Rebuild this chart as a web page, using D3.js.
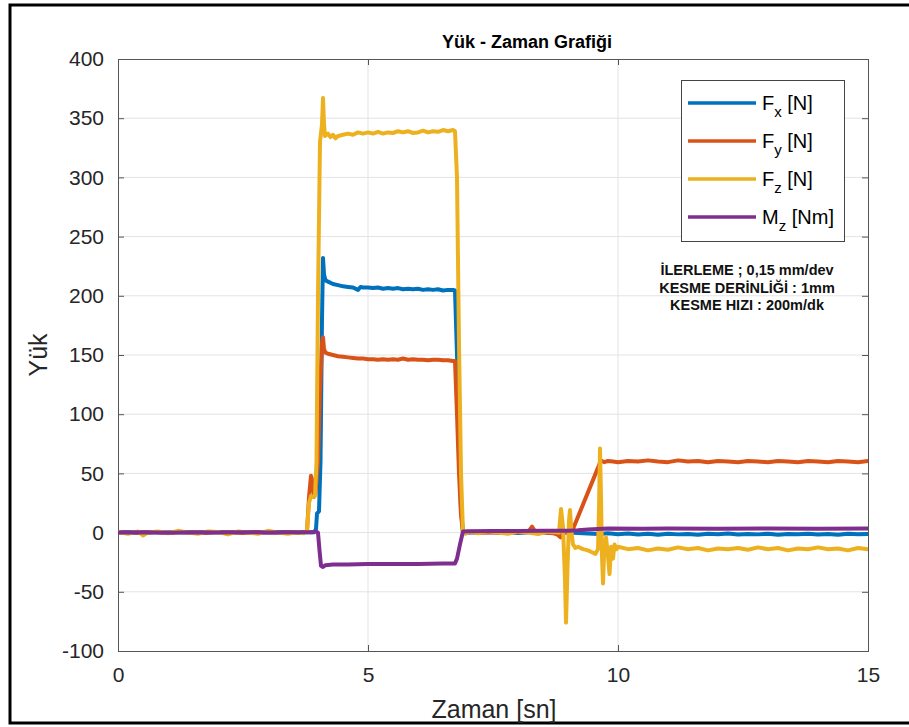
<!DOCTYPE html>
<html>
<head>
<meta charset="utf-8">
<script src="https://d3js.org/d3.v7.min.js"></script>
<style>
    body { margin: 0; background: #fff; }
    #chart-area { width: 909px; height: 727px; }
    text { font-family: Arial, "Liberation Sans", sans-serif; }
</style>
</head>
<body>
<div id="chart-area"></div>
<script>

// series as [time (sn), value] pairs
let fxData = [
    [0,0.5],[0.25,0.2],[0.5,-0.3],[0.75,0.4],[1,0.1],[1.25,0.6],[1.5,-0.2],[1.75,0.3],[2,0.5],[2.25,0],
    [2.5,0.4],[2.75,-0.3],[3,0.2],[3.25,0.5],[3.5,0.1],[3.75,0.3],[3.92,0.2],[3.96,3],[3.98,16],[4.02,18],
    [4.05,60],[4.08,180],[4.1,232],[4.12,218],[4.15,213],[4.2,212],[4.3,210],[4.4,209],[4.5,208],[4.6,207.5],
    [4.7,207],[4.8,205],[4.85,207.5],[4.9,207],[5.0,207],[5.1,206.5],[5.2,207],[5.3,206],[5.4,206.5],[5.5,206],
    [5.6,206.5],[5.7,205.5],[5.8,206],[5.9,205.5],[6.0,206],[6.1,205],[6.2,205.5],[6.3,205],[6.4,205.5],[6.5,204.5],
    [6.6,205],[6.7,205],[6.74,204.5],[6.78,150],[6.82,80],[6.86,20],[6.9,0],[7.0,0.3],[7.2,-0.2],[7.4,0.4],
    [7.6,0],[7.8,0.5],[8.0,-0.3],[8.2,0.2],[8.4,0.4],[8.6,-0.2],[8.8,0.3],[9.0,0],[9.2,-0.4],[9.4,-0.8],
    [9.6,-1.2],[9.8,-0.6],[10.0,-1.4],[10.2,-0.8],[10.4,-1.6],[10.6,-1.0],[10.8,-1.8],[11.0,-0.9],[11.2,-1.5],[11.4,-1.1],
    [11.6,-1.9],[11.8,-1.0],[12.0,-1.4],[12.2,-0.8],[12.4,-1.7],[12.6,-1.2],[12.8,-1.5],[13.0,-0.9],[13.2,-1.8],[13.4,-1.1],
    [13.6,-1.4],[13.8,-0.9],[14.0,-1.6],[14.2,-1.2],[14.4,-1.8],[14.6,-1.0],[14.8,-1.4],[15.0,-1.2]
];

let fyData = [
    [0,0.3],[0.25,-0.4],[0.5,0.2],[0.75,0.5],[1,-0.2],[1.25,0.4],[1.5,0.1],[1.75,-0.3],[2,0.4],[2.25,0.2],
    [2.5,-0.3],[2.75,0.5],[3,0.1],[3.25,-0.2],[3.5,0.3],[3.7,0.1],[3.78,1],[3.82,30],[3.86,48],[3.9,42],
    [3.92,30],[3.95,33],[4.0,60],[4.04,120],[4.08,160],[4.1,165],[4.12,155],[4.15,152],[4.2,151],[4.3,150],
    [4.4,149],[4.5,148.5],[4.6,148],[4.7,147.5],[4.8,147],[4.9,147],[5.0,146.5],[5.1,146.5],[5.2,146],[5.3,146.5],
    [5.4,146],[5.5,146.5],[5.6,146],[5.7,147],[5.8,146],[5.9,146.5],[6.0,146],[6.1,146],[6.2,145.5],[6.3,146],
    [6.4,146],[6.5,145.5],[6.6,145.5],[6.7,145],[6.74,145],[6.78,100],[6.82,50],[6.86,15],[6.9,0],[7.0,0.4],
    [7.25,-0.2],[7.5,0.3],[7.75,0.1],[8.0,0.4],[8.2,0.3],[8.28,5],[8.34,1],[8.5,0.2],[8.7,-0.5],[8.8,-2],
    [8.85,-4],[8.9,-1],[9.0,1],[9.1,3],[9.66,61],[9.72,59.5],[9.8,60.5],[9.9,60],[10.0,59.5],[10.2,60.5],
    [10.4,60],[10.6,61],[10.8,60],[11.0,59.5],[11.2,61],[11.4,60],[11.6,60.5],[11.8,59.5],[12.0,60.5],[12.2,60],
    [12.4,59.5],[12.6,60.5],[12.8,60],[13.0,59.5],[13.2,60.5],[13.4,60],[13.6,59.5],[13.8,60.5],[14.0,60],[14.2,59.5],
    [14.4,60.5],[14.6,60],[14.8,59.5],[15.0,60.5]
];

let fzData = [
    [0,0.5],[0.2,-1],[0.4,1],[0.5,-2.5],[0.6,0],[0.8,1],[1.0,-0.5],[1.2,1.5],[1.4,0],[1.6,-1],
    [1.8,1],[2.0,0.5],[2.2,-1.5],[2.4,1],[2.6,0],[2.8,-1],[3.0,1.5],[3.2,0],[3.4,-1],[3.6,0.5],
    [3.72,-0.5],[3.78,2],[3.82,25],[3.86,31],[3.9,30],[3.94,31],[3.97,60],[4.0,200],[4.04,330],[4.08,345],
    [4.1,367],[4.12,345],[4.14,335],[4.2,337],[4.25,334],[4.3,336],[4.35,333],[4.4,335],[4.5,336],[4.6,337],
    [4.7,336],[4.8,338],[4.9,337],[5.0,338],[5.1,337],[5.2,338.5],[5.3,337],[5.4,338],[5.5,337.5],[5.6,339],
    [5.7,338],[5.8,339],[5.9,337.5],[6.0,338],[6.1,339.5],[6.2,338],[6.3,339],[6.4,338.5],[6.5,340],[6.6,339],
    [6.7,340],[6.74,339],[6.78,300],[6.82,160],[6.86,50],[6.9,0],[6.95,-1],[7.0,1],[7.2,-0.5],[7.4,1.2],
    [7.6,0],[7.8,-1],[8.0,1],[8.2,0],[8.4,-1.2],[8.6,0.8],[8.82,0],[8.86,20],[8.9,5],[8.94,-40],
    [8.96,-76],[8.99,-30],[9.02,10],[9.04,19],[9.07,0],[9.1,-10],[9.15,-13],[9.2,-12],[9.3,-14],[9.4,-15],
    [9.5,-17],[9.55,-18],[9.6,-14],[9.62,20],[9.64,71],[9.66,30],[9.68,-20],[9.7,-43],[9.72,-20],[9.76,-4],
    [9.8,-20],[9.83,-35],[9.86,-12],[9.9,-22],[9.93,-10],[9.97,-14],[10.0,-12],[10.2,-14],[10.4,-13],[10.6,-15],
    [10.8,-13.5],[11.0,-14.5],[11.2,-12.5],[11.4,-14],[11.6,-13],[11.8,-15],[12.0,-13.5],[12.2,-14],[12.4,-13],[12.6,-14.5],
    [12.8,-12.5],[13.0,-14],[13.2,-13],[13.4,-15],[13.6,-13.5],[13.8,-14],[14.0,-12.5],[14.2,-14],[14.4,-13.5],[14.6,-15],
    [14.8,-13],[15.0,-14]
];

let mzData = [
    [0,0],[0.5,0.3],[1.0,-0.1],[1.5,0.2],[2.0,0],[2.5,0.3],[3.0,0.1],[3.5,0.2],[3.9,0.4],[3.96,1],
    [4.0,0],[4.03,-15],[4.06,-28],[4.1,-29],[4.15,-27.5],[4.3,-27],[4.6,-27],[5.0,-26.5],[5.5,-26.5],[6.0,-26.5],
    [6.5,-26],[6.74,-26],[6.78,-22],[6.84,-10],[6.9,1],[7.0,1.2],[7.5,1.4],[8.0,1.3],[8.5,1.5],[9.0,1.6],
    [9.2,2],[9.4,2.6],[9.6,3.1],[9.8,3.4],[10.5,3.3],[11,3.4],[12,3.3],[13,3.4],[14,3.3],[15,3.4]
];

let seriesNames = [["F", "x", " [N]"], ["F", "y", " [N]"], ["F", "z", " [N]"], ["M", "z", " [Nm]"]];
let seriesColors = ["#0072BD", "#D95319", "#EDB120", "#7E2F8E"];
let xTicks = [0, 5, 10, 15];
let yTicks = [-100, -50, 0, 50, 100, 150, 200, 250, 300, 350, 400];
let noteLines = ["İLERLEME ; 0,15 mm/dev", "KESME DERİNLİĞİ : 1mm", "KESME HIZI : 200m/dk"];


class loadTimeVis {
    constructor(parentElement, seriesList){
        this.parentElement = parentElement;
        this.seriesList = seriesList;
        this.initVis()
    }

    initVis(){
        let vis = this;

        vis.margin = {top: 59, right: 41, bottom: 76, left: 118};
        vis.width = 909 - vis.margin.left - vis.margin.right;
        vis.height = 727 - vis.margin.top - vis.margin.bottom;

        vis.root = d3.select("#" + vis.parentElement).append("svg")
            .attr("width", 909)
            .attr("height", 727);

        // black frame round the figure
        vis.root.append("rect")
            .attr("x", 10).attr("y", 5)
            .attr("width", 920).attr("height", 718)
            .attr("fill", "none")
            .attr("stroke", "#000")
            .attr("stroke-width", 3);

        vis.svg = vis.root.append("g")
            .attr("transform", `translate (${vis.margin.left}, ${vis.margin.top})`);

        vis.x = d3.scaleLinear().domain([0, 15]).range([0, vis.width]);
        vis.y = d3.scaleLinear().domain([-100, 400]).range([vis.height, 0]);

        // grid
        vis.svg.append("g")
            .attr("class", "grid")
            .selectAll("line.gx")
            .data(xTicks.slice(1, -1))
            .enter().append("line")
            .attr("x1", d => vis.x(d)).attr("x2", d => vis.x(d))
            .attr("y1", 0).attr("y2", vis.height)
            .attr("stroke", "#e3e3e3").attr("stroke-width", 1);

        vis.svg.select(".grid")
            .selectAll("line.gy")
            .data(yTicks.slice(1, -1))
            .enter().append("line")
            .attr("x1", 0).attr("x2", vis.width)
            .attr("y1", d => vis.y(d)).attr("y2", d => vis.y(d))
            .attr("stroke", "#e3e3e3").attr("stroke-width", 1);

        // axes, ticks pointing inwards like matlab
        vis.xAxis = d3.axisBottom(vis.x).tickValues(xTicks).tickSize(-6).tickPadding(16)
            .tickFormat(d => String(d));
        vis.yAxis = d3.axisLeft(vis.y).tickValues(yTicks).tickSize(-6).tickPadding(14)
            .tickFormat(d => String(d));
        vis.xAxisTop = d3.axisTop(vis.x).tickValues(xTicks).tickSize(-6).tickFormat("");
        vis.yAxisRight = d3.axisRight(vis.y).tickValues(yTicks).tickSize(-6).tickFormat("");

        vis.svg.append("g").attr("class", "x-axis axis")
            .attr("transform", "translate(0," + vis.height + ")")
            .call(vis.xAxis);
        vis.svg.append("g").attr("class", "y-axis axis")
            .call(vis.yAxis);
        vis.svg.append("g").attr("class", "axis")
            .call(vis.xAxisTop);
        vis.svg.append("g").attr("class", "axis")
            .attr("transform", "translate(" + vis.width + ",0)")
            .call(vis.yAxisRight);

        vis.svg.selectAll(".axis path, .axis line").attr("stroke", "#555");
        vis.svg.selectAll(".axis text")
            .style("font-size", "21px")
            .attr("fill", "#262626");

        vis.clip = vis.svg.append("clipPath").attr("id", "plot-clip")
            .append("rect").attr("width", vis.width).attr("height", vis.height);

        // titles
        vis.root.append("text")
            .attr("x", 527)
            .attr("y", 48)
            .attr("text-anchor", "middle")
            .style("font-size", "18px")
            .style("font-weight", "bold")
            .attr("fill", "#000")
            .text("Yük - Zaman Grafiği");

        vis.root.append("text")
            .attr("x", 494)
            .attr("y", 718)
            .attr("text-anchor", "middle")
            .style("font-size", "25px")
            .attr("fill", "#262626")
            .text("Zaman [sn]");

        vis.root.append("text")
            .attr("transform", `translate(47, ${vis.margin.top + vis.height / 2}) rotate(-90)`)
            .attr("text-anchor", "middle")
            .style("font-size", "25px")
            .attr("fill", "#262626")
            .text("Yük");

        vis.updateVis();
    }

    updateVis(){
        let vis = this;

        vis.line = d3.line()
            .x(d => vis.x(d[0]))
            .y(d => vis.y(d[1]));

        vis.svg.append("g")
            .attr("clip-path", "url(#plot-clip)")
            .selectAll("path.series")
            .data(vis.seriesList)
            .enter().append("path")
            .attr("class", "series")
            .attr("d", d => vis.line(d))
            .attr("fill", "none")
            .attr("stroke", (d, i) => seriesColors[i])
            .attr("stroke-width", 4)
            .attr("stroke-linejoin", "round")
            .attr("stroke-linecap", "round");

        // legend
        let legend = vis.root.append("g").attr("class", "legend");
        legend.append("rect")
            .attr("x", 681.5).attr("y", 80.5)
            .attr("width", 163).attr("height", 161)
            .attr("fill", "#fff")
            .attr("stroke", "#444").attr("stroke-width", 1);

        let rows = legend.selectAll("g.row")
            .data(seriesNames)
            .enter().append("g")
            .attr("class", "row")
            .attr("transform", (d, i) => `translate(688, ${103 + i * 38})`);

        rows.append("line")
            .attr("x1", 0).attr("x2", 68)
            .attr("stroke", (d, i) => seriesColors[i])
            .attr("stroke-width", 3.5);

        let label = rows.append("text")
            .attr("x", 74).attr("y", 7)
            .style("font-size", "20px")
            .attr("fill", "#000");
        label.append("tspan").text(d => d[0]);
        label.append("tspan").attr("dy", 7).style("font-size", "15px").text(d => d[1]);
        label.append("tspan").attr("dy", -7).text(d => d[2]);

        // cutting parameters note
        vis.root.append("g").selectAll("text")
            .data(noteLines)
            .enter().append("text")
            .attr("x", 747)
            .attr("y", (d, i) => 275 + i * 17.5)
            .attr("text-anchor", "middle")
            .style("font-size", "14.5px")
            .style("font-weight", "bold")
            .attr("fill", "#111")
            .text(d => d);
    }
}

let myVis = new loadTimeVis("chart-area", [fxData, fyData, fzData, mzData]);

</script>
</body>
</html>
